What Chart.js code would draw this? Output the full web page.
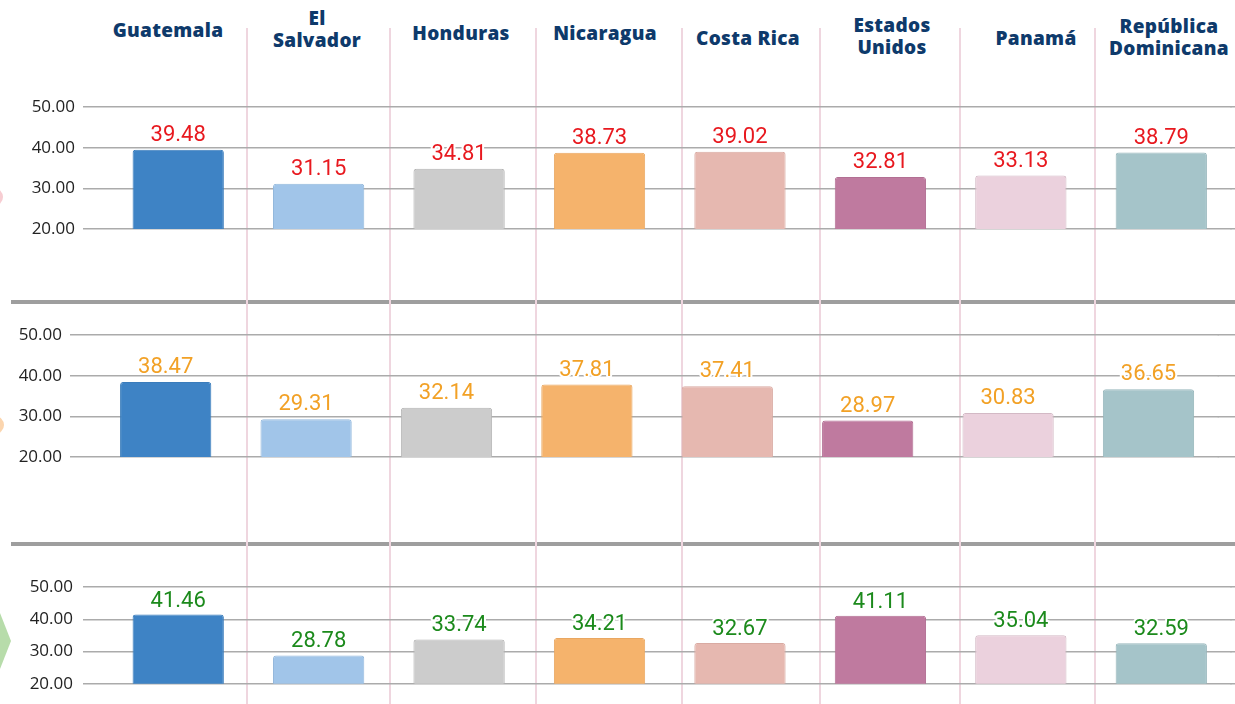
<!DOCTYPE html>
<html>
<head>
<meta charset="utf-8">
<script src="https://cdn.jsdelivr.net/npm/chart.js@4"></script>
<style>
  html, body { margin: 0; padding: 0; background: #fff; }
  #wrap { position: relative; width: 1235px; height: 704px; overflow: hidden; background: #fff; }
  .sep { position: absolute; top: 28px; bottom: 0; width: 2px; background: #efd6df; z-index: 3; }
  .rule { position: absolute; left: 11px; right: 0; height: 4px; background: #9e9e9e; z-index: 2; }
  .head { position: absolute; width: 180px; margin-left: -90px; text-align: center;
          font-family: "Open Sans", sans-serif; font-weight: 800; font-size: 19px;
          line-height: 22px; letter-spacing: 0.3px; color: #0e3a6b; }
  canvas { position: absolute; left: 0; z-index: 4; }
  .deco { position: absolute; }
</style>
</head>
<body>
<div id="wrap"></div>
<script>
// categories (header lines) and values for the three panels
const countries = [['Guatemala'], ['El', 'Salvador'], ['Honduras'], ['Nicaragua'], ['Costa Rica'],
  ['Estados', 'Unidos'], ['Panamá'], ['República', 'Dominicana']];
const topValues = [39.48, 31.15, 34.81, 38.73, 39.02, 32.81, 33.13, 38.79];
const midValues = [38.47, 29.31, 32.14, 37.81, 37.41, 28.97, 30.83, 36.65];
const lowValues = [41.46, 28.78, 33.74, 34.21, 32.67, 41.11, 35.04, 32.59];
const yTicks = [20, 30, 40, 50];
const barColors = ['#3e83c5', '#a1c5e9', '#cccccc', '#f5b36c', '#e6b8b0', '#bf7a9f', '#ebd1dd', '#a5c4c9'];
const barBorders = ['#3a7cbb', '#93b8dc', '#b4b4b4', '#e9a761', '#d9aaa2', '#b26f93', '#d3b9c5', '#98b7bc'];

// layout of the slide pieces
const headX = [168, 317, 461, 605, 748, 892, 1036, 1169];
const headTop = [19, 7, 22, 22, 27, 14, 27, 15];
const sepX = [246, 389, 535, 681, 819, 959, 1094];

const wrap = document.getElementById('wrap');

sepX.forEach(x => {
  const d = document.createElement('div');
  d.className = 'sep';
  d.style.left = x + 'px';
  wrap.appendChild(d);
});
[300, 542].forEach(y => {
  const d = document.createElement('div');
  d.className = 'rule';
  d.style.top = y + 'px';
  wrap.appendChild(d);
});
countries.forEach((lines, i) => {
  const d = document.createElement('div');
  d.className = 'head';
  d.style.left = headX[i] + 'px';
  d.style.top = headTop[i] + 'px';
  d.innerHTML = lines.join('<br>');
  wrap.appendChild(d);
});

// bits of shapes cut off at the left edge
const pink = document.createElement('div');
pink.className = 'deco';
pink.style.cssText = 'left:-15px;top:188px;width:18px;height:18px;border-radius:50%;background:#f7cdd2;';
wrap.appendChild(pink);
const orange = document.createElement('div');
orange.className = 'deco';
orange.style.cssText = 'left:-14px;top:416px;width:18px;height:18px;border-radius:50%;background:#fbd5ae;';
wrap.appendChild(orange);
const green = document.createElement('div');
green.className = 'deco';
green.style.cssText = 'left:0;top:613px;width:11px;height:56px;background:#b7dcaa;clip-path:polygon(0 0,100% 50%,0 100%);';
wrap.appendChild(green);

// value labels with white halo
const valueLabels = {
  id: 'valueLabels',
  afterDatasetsDraw(chart, args, opts) {
    const ctx = chart.ctx;
    const ds = chart.data.datasets[0];
    ctx.save();
    ctx.font = '22px Roboto';
    ctx.textAlign = 'center';
    ctx.textBaseline = 'alphabetic';
    ctx.lineJoin = 'round';
    chart.getDatasetMeta(0).data.forEach((bar, i) => {
      const txt = ds.data[i].toFixed(2);
      const y = bar.y - opts.gap;
      ctx.strokeStyle = '#fff';
      ctx.lineWidth = 4;
      ctx.strokeText(txt, bar.x, y);
      ctx.fillStyle = opts.color;
      ctx.fillText(txt, bar.x, y);
    });
    ctx.restore();
  }
};

// let the horizontal grid run on to the right edge
const gridToEdge = {
  id: 'gridToEdge',
  beforeDatasetsDraw(chart) {
    const s = chart.scales.y, a = chart.chartArea, ctx = chart.ctx;
    const w = 1.5;
    ctx.save();
    ctx.strokeStyle = '#ababab';
    ctx.lineWidth = w;
    s.ticks.forEach((t, i) => {
      // same pixel alignment Chart.js uses for its own grid lines
      const y = Math.round(s.getPixelForTick(i) - w / 2) + w / 2;
      ctx.beginPath();
      ctx.moveTo(a.right - 1, y);
      ctx.lineTo(chart.width, y);
      ctx.stroke();
    });
    ctx.restore();
  }
};

function makePanel(values, labelColor, box) {
  const canvas = document.createElement('canvas');
  canvas.width = 1235;
  canvas.height = box.height;
  canvas.style.top = box.top + 'px';
  canvas.style.width = '1235px';
  canvas.style.height = box.height + 'px';
  wrap.appendChild(canvas);

  new Chart(canvas, {
    type: 'bar',
    data: {
      labels: countries.map(c => c.join(' ')),
      datasets: [{
        data: values,
        backgroundColor: barColors,
        borderColor: barBorders,
        borderWidth: 1,
        borderSkipped: 'bottom',
        borderRadius: { topLeft: 3, topRight: 3 },
        barPercentage: 0.65,
        categoryPercentage: 1
      }]
    },
    options: {
      responsive: false,
      animation: false,
      devicePixelRatio: 1,
      layout: { padding: { left: 0, right: box.right, top: box.padTop, bottom: box.padBottom } },
      plugins: {
        legend: { display: false },
        tooltip: { enabled: false },
        valueLabels: { color: labelColor, gap: box.gap }
      },
      scales: {
        x: { display: false },
        y: {
          min: 20,
          max: 50,
          afterBuildTicks: s => { s.ticks = yTicks.map(v => ({ value: v })); },
          afterFit: s => { s.width = box.left; },
          border: { display: false },
          grid: { color: '#ababab', lineWidth: 1.5, drawTicks: true, tickLength: box.tick },
          ticks: {
            padding: box.pad,
            color: '#222',
            font: { family: 'Open Sans', size: 17 },
            callback: v => Number(v).toFixed(2)
          }
        }
      }
    },
    plugins: [gridToEdge, valueLabels]
  });
}

makePanel(topValues, '#e8191f', { top: 60, height: 240, padTop: 47, padBottom: 71, left: 108, right: 3.5, tick: 25, pad: 8, gap: 9 });
makePanel(midValues, '#f2a126', { top: 306, height: 236, padTop: 29, padBottom: 85, left: 95.5, right: 16.3, tick: 25.5, pad: 8, gap: 9 });
makePanel(lowValues, '#1c8a1c', { top: 548, height: 156, padTop: 39, padBottom: 16, left: 108, right: 3.5, tick: 25, pad: 10, gap: 8 });
</script>
</body>
</html>
